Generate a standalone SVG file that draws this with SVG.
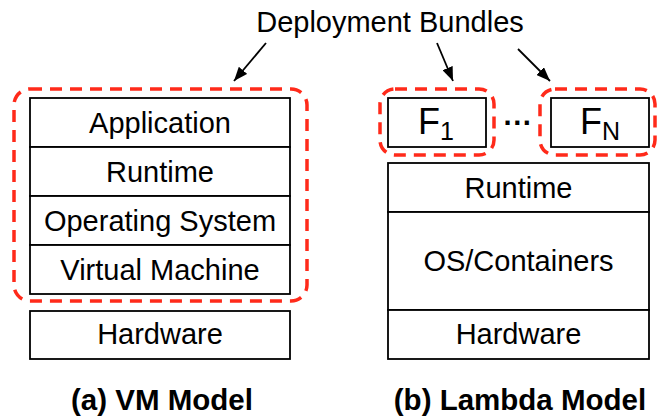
<svg xmlns="http://www.w3.org/2000/svg" width="659" height="417" viewBox="0 0 659 417">
<defs>
<marker id="ah" viewBox="0 0 14 11" refX="14" refY="5.5" markerWidth="14" markerHeight="11" markerUnits="userSpaceOnUse" orient="auto">
<path d="M0,0 L14,5.5 L0,11 Z" fill="#000"/>
</marker>
<style>
.box{fill:#fff;stroke:#000;stroke-width:1.8}
.dash{fill:none;stroke:#ff2a1a;stroke-width:3.5;stroke-dasharray:12 8}
text{font-family:"Liberation Sans",Arial,Helvetica,sans-serif;font-size:29px;fill:#000;text-anchor:middle}
text.f{font-size:36px}
tspan.sub{font-size:25px}
text.cap{font-weight:bold;font-size:29.5px}
.arr{stroke:#000;stroke-width:1.8;fill:none}
</style>
</defs>
<rect width="659" height="417" fill="#fff"/>
<g id="vm-stack">
<g id="vm-application"><rect class="box" x="30" y="98" width="260" height="49"/><text x="160" y="133">Application</text></g>
<g id="vm-runtime"><rect class="box" x="30" y="147" width="260" height="49"/><text x="160" y="182">Runtime</text></g>
<g id="vm-os"><rect class="box" x="30" y="196" width="260" height="49"/><text x="160" y="231">Operating System</text></g>
<g id="vm-vm"><rect class="box" x="30" y="245" width="260" height="49"/><text x="160" y="280">Virtual Machine</text></g>
<g id="vm-hardware"><rect class="box" x="30" y="311" width="260" height="48"/><text x="160" y="344">Hardware</text></g>
</g>
<g id="vm-bundle"><rect class="dash" x="14" y="89" width="293" height="212" rx="16"/></g>
<g id="lambda-stack">
<g id="f1"><rect class="box" x="388" y="98" width="98" height="49"/><text class="f" x="436" y="134"><tspan>F</tspan><tspan class="sub" dy="6">1</tspan></text></g>
<g id="fn"><rect class="box" x="551" y="98" width="98" height="49"/><text class="f" x="600" y="134"><tspan>F</tspan><tspan class="sub" dy="6">N</tspan></text></g>
<g id="dots"><text x="518" y="133" style="font-weight:bold">···</text></g>
<g id="l-runtime"><rect class="box" x="388" y="163" width="261" height="49"/><text x="518.5" y="198">Runtime</text></g>
<g id="l-os"><rect class="box" x="388" y="212" width="261" height="98"/><text x="518.5" y="271">OS/Containers</text></g>
<g id="l-hardware"><rect class="box" x="388" y="310" width="261" height="49"/><text x="518.5" y="344">Hardware</text></g>
</g>
<g id="f1-bundle"><rect class="dash" x="380" y="89" width="114" height="66" rx="15"/></g>
<g id="fn-bundle"><rect class="dash" x="540" y="89" width="115" height="66" rx="15"/></g>
<g id="label"><text x="390" y="32">Deployment Bundles</text></g>
<g id="connectors">
<line class="arr" x1="266" y1="43" x2="234" y2="81" marker-end="url(#ah)"/>
<line class="arr" x1="437" y1="43" x2="453" y2="81" marker-end="url(#ah)"/>
<line class="arr" x1="518" y1="49" x2="550" y2="81" marker-end="url(#ah)"/>
</g>
<g id="captions">
<text class="cap" x="162" y="410">(a) VM Model</text>
<text class="cap" x="520" y="410">(b) Lambda Model</text>
</g>
</svg>
